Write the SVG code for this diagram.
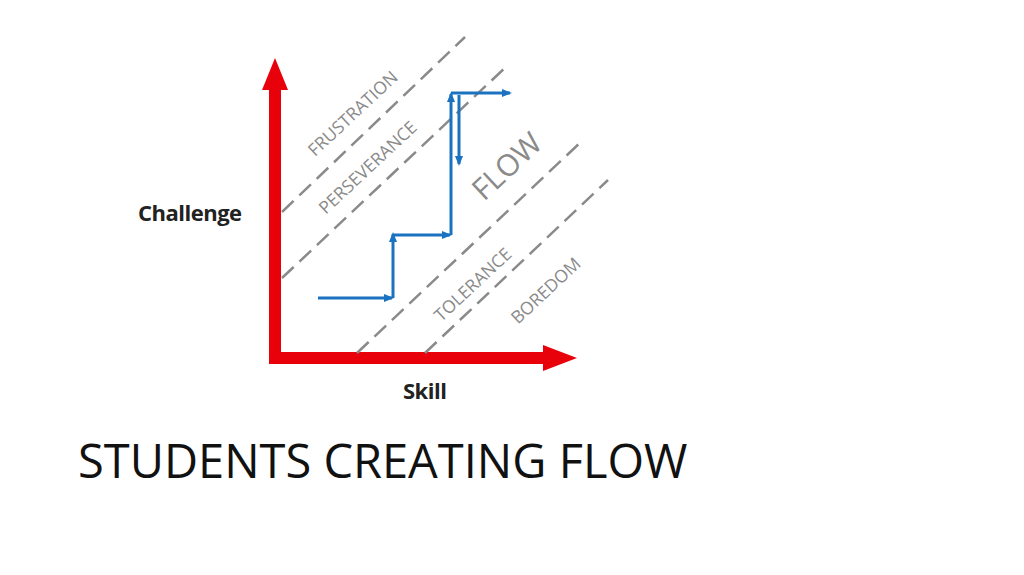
<svg xmlns="http://www.w3.org/2000/svg" width="1024" height="575" viewBox="0 0 1024 575">
<style>
.dash{stroke:#8a8a8a;stroke-width:2.5;stroke-dasharray:16,8;fill:none}
.blue{stroke:#1a72c0;stroke-width:3;fill:none;marker-end:url(#ba)}
.zone{font-family:"Open Sans",sans-serif;fill:#8a8a8a;font-size:17.5px;text-anchor:middle}
.ax{font-family:"Open Sans",sans-serif;font-weight:bold;fill:#222;font-size:22px;letter-spacing:-0.5px}
</style>
<defs>
<marker id="ba" markerWidth="10" markerHeight="8" refX="8" refY="4" orient="auto" markerUnits="userSpaceOnUse"><path d="M0,0L10,4L0,8z" fill="#1a72c0"/></marker>
</defs>
<rect width="1024" height="575" fill="#fff"/>
<g id="axes">
<path d="M269,364V88H281V364z" fill="#e8000b"/>
<path d="M262,90L275,58L288,90z" fill="#e8000b"/>
<path d="M269,352H545V364H269z" fill="#e8000b"/>
<path d="M543,345L577,358L543,371z" fill="#e8000b"/>
</g>
<g id="zones">
<line class="dash" x1="282" y1="212" x2="465" y2="37"/>
<line class="dash" x1="282" y1="278" x2="508" y2="65"/>
<line class="dash" x1="357" y1="353" x2="583" y2="140"/>
<line class="dash" x1="425" y1="353" x2="608" y2="180"/>
</g>
<g id="connectors">
<path class="blue" d="M318,298H392"/>
<path class="blue" d="M393,298V234"/>
<path class="blue" d="M393,235H450"/>
<path class="blue" d="M451,235V94"/>
<path class="blue" d="M451,93H510"/>
<path class="blue" d="M459,95V164"/>
</g>
<g id="labels">
<text class="zone" transform="translate(357,118) rotate(-43)">FRUSTRATION</text>
<text class="zone" transform="translate(372,172) rotate(-43)">PERSEVERANCE</text>
<text class="zone" style="font-size:30px" transform="translate(514,174) rotate(-43)">FLOW</text>
<text class="zone" transform="translate(477,289) rotate(-43)">TOLERANCE</text>
<text class="zone" transform="translate(550,295) rotate(-43)">BOREDOM</text>
<text class="ax" x="138" y="221">Challenge</text>
<text class="ax" x="403" y="399">Skill</text>
<text x="78" y="478" font-family="'Open Sans',sans-serif" font-size="47" fill="#111">STUDENTS CREATING FLOW</text>
</g>
</svg>
